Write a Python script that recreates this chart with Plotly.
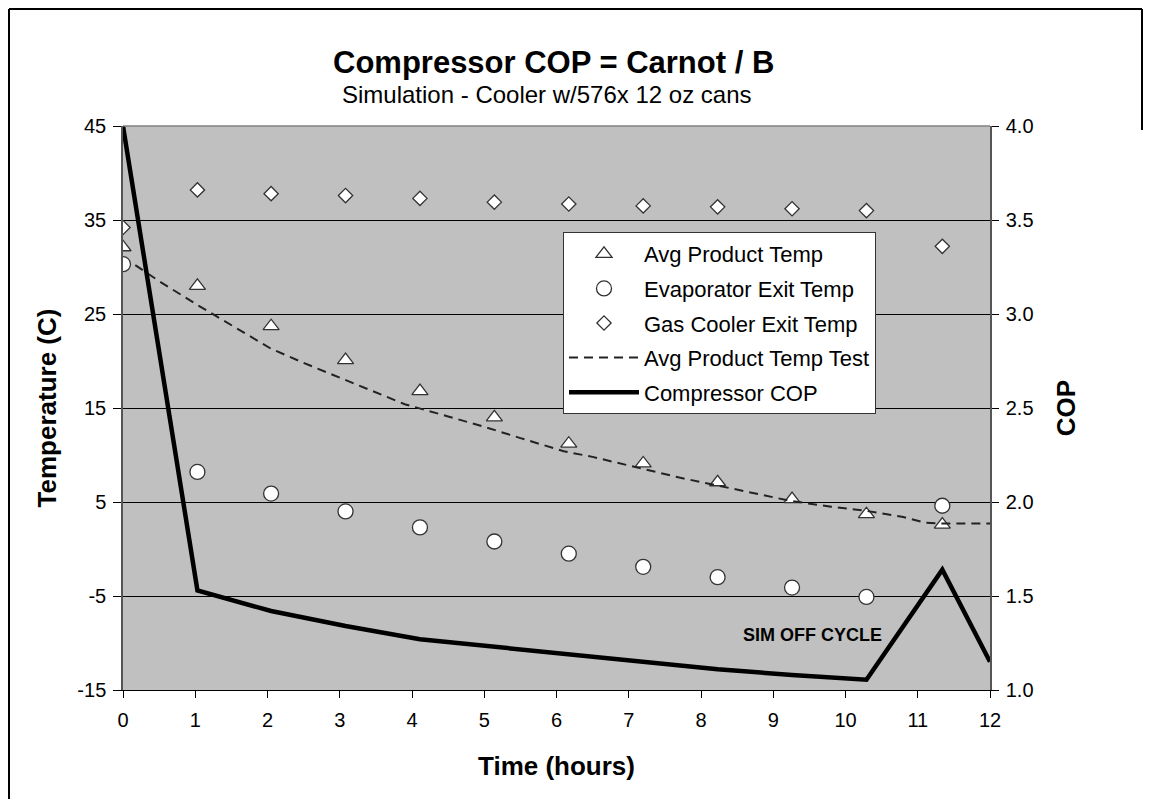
import plotly.graph_objects as go

# ---------------- data ----------------
time_h = [0, 1.03, 2.05, 3.08, 4.11, 5.14, 6.17, 7.20, 8.23, 9.26, 10.29, 11.34]
avg_product_temp = [32.1, 28.0, 23.7, 20.1, 16.8, 14.0, 11.2, 9.1, 7.1, 5.3, 3.7, 2.6]
evap_exit_temp = [30.3, 8.2, 5.9, 4.0, 2.3, 0.8, -0.5, -1.9, -3.0, -4.1, -5.1, 4.6]
gas_cooler_exit_temp = [34.2, 38.2, 37.8, 37.6, 37.3, 36.9, 36.7, 36.5, 36.4, 36.2, 36.0, 32.2]

test_time_h = [0.17, 0.5, 1.0, 1.5, 2.05, 2.5, 3.1, 3.5, 3.9, 4.5, 5.0, 5.5, 6.1,
               6.5, 7.15, 7.7, 8.2, 8.7, 9.25, 9.8, 10.29, 10.8, 11.1, 11.35, 12.0]
avg_product_temp_test = [30.2, 28.5, 26.1, 23.8, 21.3, 19.8, 17.9, 16.6, 15.4, 14.1, 13.0,
                         11.8, 10.4, 9.8, 8.6, 7.6, 6.8, 6.0, 5.1, 4.5, 4.05, 3.4, 2.8, 2.7, 2.7]

cop_time_h = [0, 1.03, 2.05, 3.08, 4.11, 5.14, 6.17, 7.20, 8.23, 9.26, 10.29, 11.34, 12.0]
compressor_cop = [4.0, 1.53, 1.42, 1.34, 1.27, 1.23, 1.185, 1.15, 1.11, 1.08, 1.055, 1.64, 1.15]

x_ticks = list(range(0, 13))
temp_ticks = [-15, -5, 5, 15, 25, 35, 45]
cop_ticks = [1.0, 1.5, 2.0, 2.5, 3.0, 3.5, 4.0]

FONT = "Liberation Sans, Arial, sans-serif"
MK_LINE = dict(color="#333333", width=1.3)

fig = go.Figure()

fig.add_trace(go.Scatter(
    x=time_h, y=avg_product_temp, mode="markers", name="Avg Product Temp",
    legendgroup="a",
    marker=dict(symbol="triangle-up", size=14, color="white", line=MK_LINE)))
fig.add_trace(go.Scatter(
    x=time_h, y=evap_exit_temp, mode="markers", name="Evaporator Exit Temp",
    legendgroup="b",
    marker=dict(symbol="circle", size=15, color="white", line=MK_LINE)))
fig.add_trace(go.Scatter(
    x=time_h, y=gas_cooler_exit_temp, mode="markers", name="Gas Cooler Exit Temp",
    legendgroup="c",
    marker=dict(symbol="diamond", size=11, color="white", line=MK_LINE)))
fig.add_trace(go.Scatter(
    x=test_time_h, y=avg_product_temp_test, mode="lines", name="Avg Product Temp Test",
    legendgroup="d",
    line=dict(color="#222222", width=2, dash="9px,6px")))
fig.add_trace(go.Scatter(
    x=cop_time_h, y=compressor_cop, mode="lines", name="Compressor COP",
    legendgroup="e", yaxis="y2",
    line=dict(color="black", width=4.5)))

# page geometry (page pixels; the page body adds an 8px offset)
OFF = 8
L, R, T, B = 123, 990, 126, 690
W, H = 1151 - OFF, 799 - OFF
def px(xp):
    return (xp - L) / (R - L)
def py(yp):
    return (B - yp) / (B - T)

fig.update_layout(
    width=W, height=H,
    margin=dict(l=L - OFF, r=W - (R - OFF), t=T - OFF, b=H - (B - OFF), autoexpand=False),
    paper_bgcolor="white",
    plot_bgcolor="#C0C0C0",
    font=dict(family=FONT, color="black", size=20),
    showlegend=True,
    legend=dict(
        x=px(563), y=py(232), xanchor="left", yanchor="top",
        bgcolor="white", bordercolor="#333333", borderwidth=1,
        font=dict(family=FONT, size=22, color="black"),
        itemwidth=70, traceorder="grouped", tracegroupgap=3,
    ),
    xaxis=dict(
        range=[0, 12], tickvals=x_ticks, ticktext=[str(v) for v in x_ticks],
        showgrid=False, zeroline=False,
        showline=True, linecolor="black", linewidth=1,
        ticks="outside", ticklen=7, tickcolor="black",
        tickfont=dict(size=20), ticklabelstandoff=5,
        title=dict(text="<b>Time (hours)</b>", font=dict(size=26), standoff=26),
    ),
    yaxis=dict(
        range=[-15, 45], tickvals=temp_ticks, ticktext=[str(v) for v in temp_ticks],
        showgrid=True, gridcolor="black", gridwidth=1, zeroline=False,
        showline=True, linecolor="#555555", linewidth=1.5,
        ticks="outside", ticklen=8, tickcolor="black",
        tickfont=dict(size=20), ticklabelstandoff=3,
        title=dict(text="<b>Temperature (C)</b>", font=dict(size=26), standoff=13),
    ),
    yaxis2=dict(
        range=[1, 4], overlaying="y", side="right",
        tickvals=cop_ticks, ticktext=[f"{v:.1f}" for v in cop_ticks],
        showgrid=False, zeroline=False,
        showline=True, linecolor="#555555", linewidth=1.5,
        ticks="outside", ticklen=7, tickcolor="black",
        tickfont=dict(size=20), ticklabelstandoff=3,
        title=dict(text="<b>COP</b>", font=dict(size=26), standoff=24),
    ),
    annotations=[
        dict(text="<b>Compressor COP = Carnot / B</b>", xref="paper", yref="paper",
             x=px(553), y=py(62), xanchor="center", yanchor="middle", showarrow=False,
             font=dict(size=31, family=FONT)),
        dict(text="Simulation - Cooler w/576x 12 oz cans", xref="paper", yref="paper",
             x=px(547), y=py(95), xanchor="center", yanchor="middle", showarrow=False,
             font=dict(size=24, family=FONT)),
        dict(text="<b>SIM OFF CYCLE</b>", xref="x", yref="y2",
             x=9.55, y=1.29, xanchor="center", yanchor="middle", showarrow=False,
             font=dict(size=18, family=FONT)),
    ],
    shapes=[
        # top edge of plot area (gray)
        dict(type="line", xref="paper", yref="paper", x0=0, x1=1, y0=1, y1=1,
             line=dict(color="#808080", width=1.5), layer="above"),
        # outer chart frame
        dict(type="line", xref="paper", yref="paper", x0=px(9), x1=px(9), y0=py(9), y1=py(805),
             line=dict(color="black", width=2)),
        dict(type="line", xref="paper", yref="paper", x0=px(9), x1=px(1142), y0=py(9), y1=py(9),
             line=dict(color="black", width=2)),
        dict(type="line", xref="paper", yref="paper", x0=px(1142), x1=px(1142), y0=py(9), y1=py(130),
             line=dict(color="black", width=2)),
    ],
)

fig.write_html("out.html")
